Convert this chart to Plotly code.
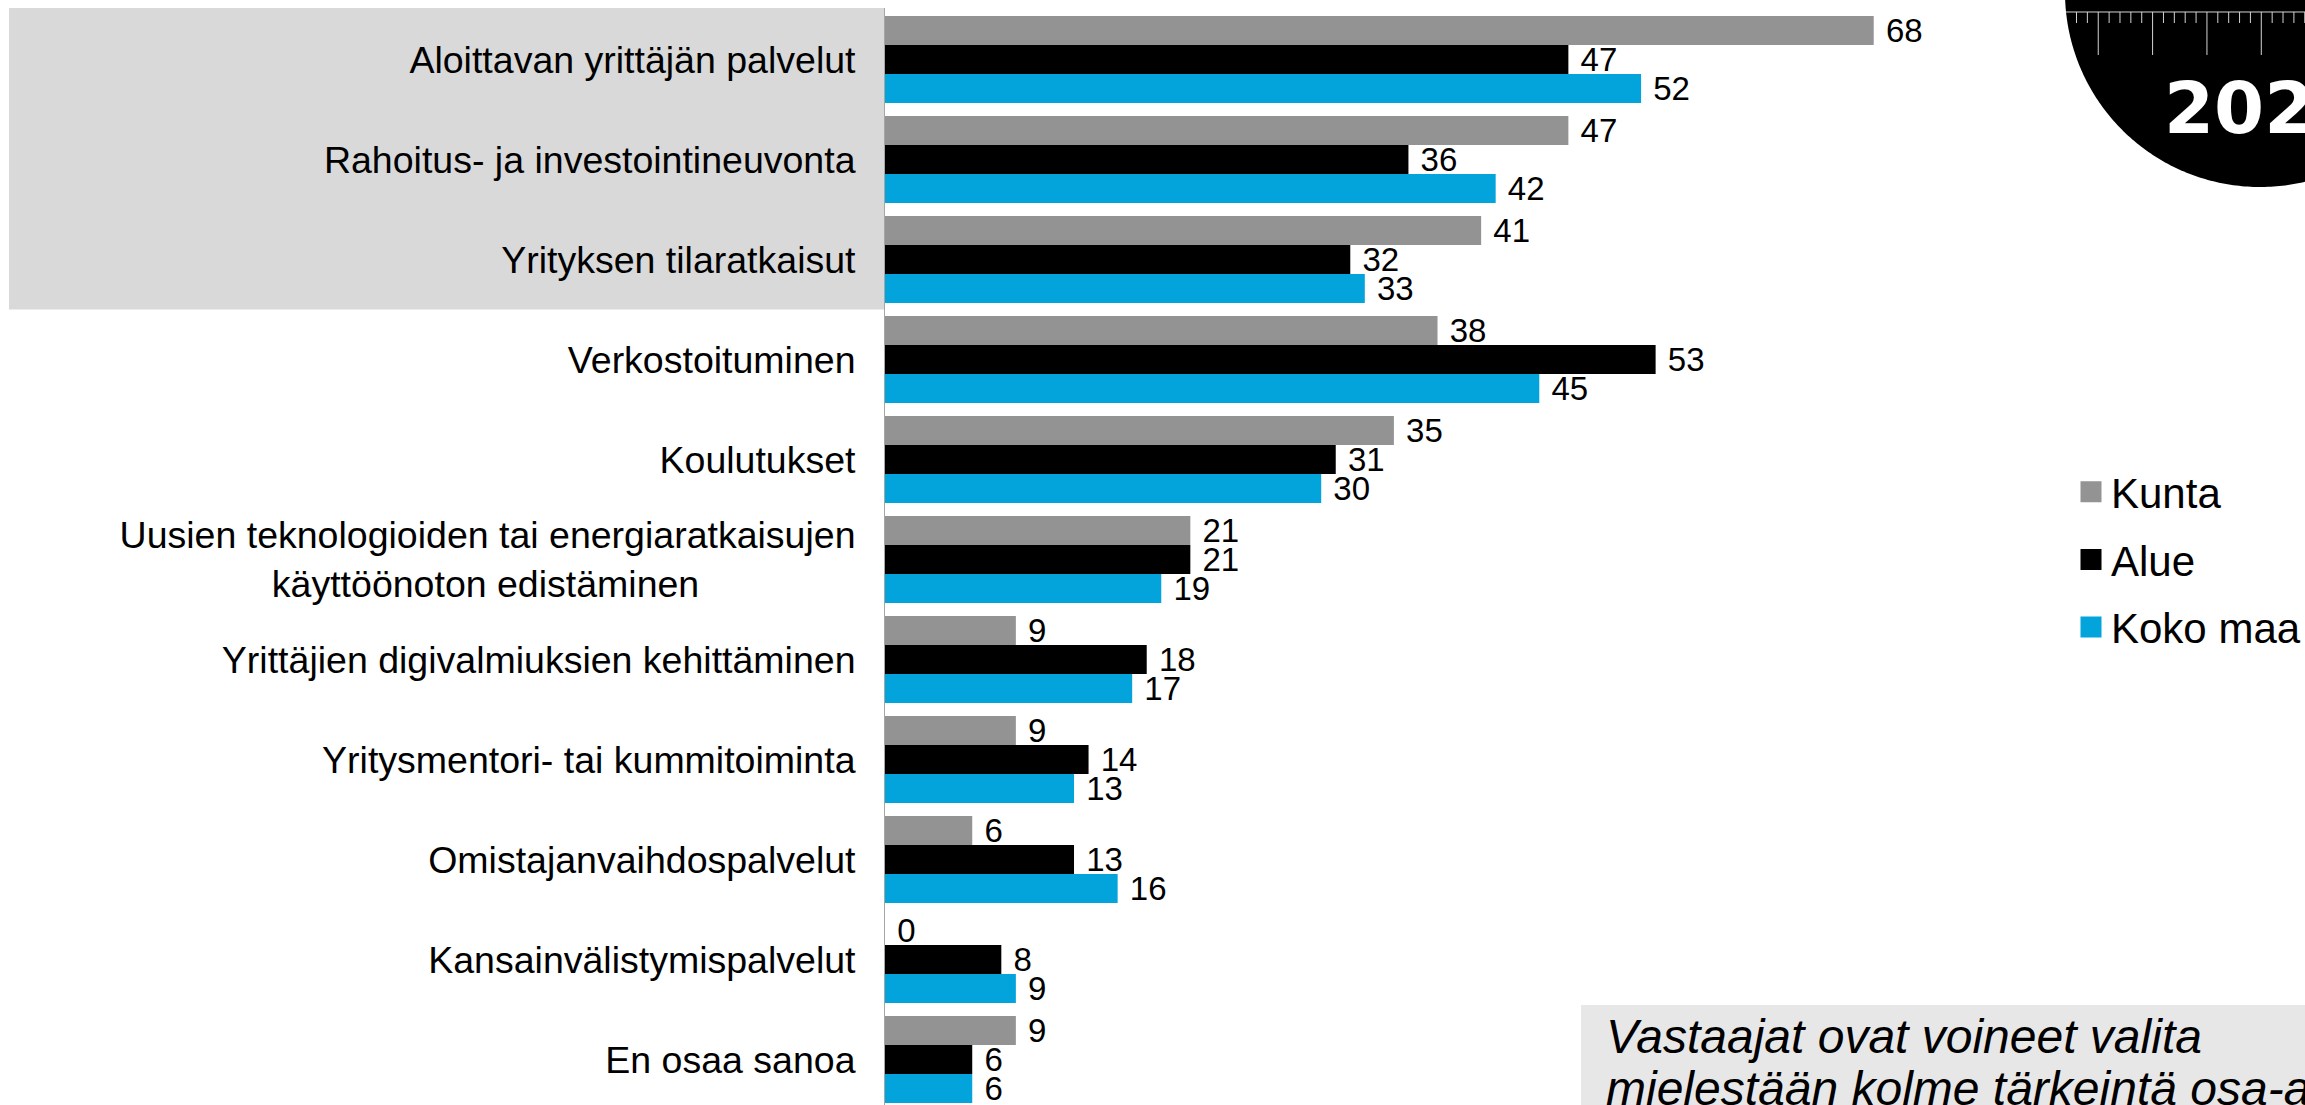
import numpy as np
import plotly.graph_objects as go

# ---------------- data ----------------
categories = [
    "Aloittavan yrittäjän palvelut",
    "Rahoitus- ja investointineuvonta",
    "Yrityksen tilaratkaisut",
    "Verkostoituminen",
    "Koulutukset",
    "Uusien teknologioiden tai energiaratkaisujen käyttöönoton edistäminen",
    "Yrittäjien digivalmiuksien kehittäminen",
    "Yritysmentori- tai kummitoiminta",
    "Omistajanvaihdospalvelut",
    "Kansainvälistymispalvelut",
    "En osaa sanoa",
]
tick_labels = [
    "Aloittavan yrittäjän palvelut",
    "Rahoitus- ja investointineuvonta",
    "Yrityksen tilaratkaisut",
    "Verkostoituminen",
    "Koulutukset",
    "Uusien teknologioiden tai energiaratkaisujen<br>käyttöönoton edistäminen" + "\u00a0" * 15,
    "Yrittäjien digivalmiuksien kehittäminen",
    "Yritysmentori- tai kummitoiminta",
    "Omistajanvaihdospalvelut",
    "Kansainvälistymispalvelut",
    "En osaa sanoa",
]
kunta = [68, 47, 41, 38, 35, 21, 9, 9, 6, 0, 9]
alue = [47, 36, 32, 53, 31, 21, 18, 14, 13, 8, 6]
koko_maa = [52, 42, 33, 45, 30, 19, 17, 13, 16, 9, 6]
series_names = ["Kunta", "Alue", "Koko maa"]
series_values = [kunta, alue, koko_maa]
series_colors = ["#939393", "#000000", "#03a4dc"]
highlighted_count = 3
note_lines = ["Vastaajat ovat voineet valita", "mielestään kolme tärkeintä osa-a"]
badge_text = "202"

# ---------------- geometry ----------------
W, H = 2305, 1105
L, T = 885, 8
PW, PH = W - L, H - T
PX_PER_UNIT = 14.54
FONT = "Liberation Sans, Arial, sans-serif"


def px_x(p):
    return (p - L) / PW


def px_y(q):
    return (H - q) / PH


fig = go.Figure()

for name, vals, col in zip(series_names, series_values, series_colors):
    fig.add_trace(go.Bar(
        name=name, y=categories, x=vals, orientation="h",
        marker=dict(color=col, line=dict(width=0)),
        texttemplate="\u00a0%{x}", textposition="outside",
        textfont=dict(family=FONT, size=33, color="#000000"),
        constraintext="none", cliponaxis=False, showlegend=False,
        legendgroup=name,
    ))

# legend entries (larger square symbols)
for name, col in zip(series_names, series_colors):
    fig.add_trace(go.Scatter(
        name=name, x=[None], y=[None], mode="markers",
        marker=dict(symbol="square", size=16, color=col, line=dict(color=col, width=5)),
        legendgroup=name, showlegend=True, hoverinfo="skip",
    ))

shapes = []
# highlight box behind first categories
shapes.append(dict(type="rect", xref="paper", yref="y",
                   x0=px_x(9), x1=0, y0=-0.525, y1=highlighted_count - 0.5,
                   fillcolor="#d9d9d9", line=dict(width=0), layer="below"))
# note box bottom-right
shapes.append(dict(type="rect", xref="paper", yref="paper",
                   x0=px_x(1581), x1=1.0, y0=0, y1=px_y(1005),
                   fillcolor="#e7e7e7", line=dict(width=0), layer="below"))

# black badge circle (visible part)
cx, cy, r = 2260.0, -8.0, 195.0
th1 = np.pi - np.arcsin(-cy / r)
th2 = np.arccos((W - cx) / r)
ths = np.linspace(th1, th2, 120)
pts = [(cx + r * np.cos(t), cy + r * np.sin(t)) for t in ths]
pts.append((W, 0))
path = "M " + " L ".join(f"{px_x(x):.6f},{px_y(y):.6f}" for x, y in pts) + " Z"
shapes.append(dict(type="path", xref="paper", yref="paper", path=path,
                   fillcolor="#000000", line=dict(width=0), layer="above"))

# ruler on the badge
ruler_y = 12
xl = cx - np.sqrt(r * r - (ruler_y - cy) ** 2)
segs = [f"M {px_x(xl):.6f},{px_y(ruler_y):.6f} L {px_x(W):.6f},{px_y(ruler_y):.6f}"]
step = 10.87
k = 0
xt = 2076.5
while xt < W:
    major = (k % 5 == 2)
    yb = 55 if major else 23
    segs.append(f"M {px_x(xt):.6f},{px_y(ruler_y):.6f} L {px_x(xt):.6f},{px_y(yb):.6f}")
    xt += step
    k += 1
shapes.append(dict(type="path", xref="paper", yref="paper", path=" ".join(segs),
                   line=dict(color="#d4d4d4", width=1), layer="above"))

annotations = [
    dict(text=badge_text, xref="paper", yref="paper", x=1.0, y=px_y(108),
         xanchor="right", yanchor="middle", showarrow=False, xshift=11,
         font=dict(family="DejaVu Sans", size=72, color="#ffffff", weight="bold")),
    dict(text=note_lines[0], xref="paper", yref="paper", x=px_x(1604), y=px_y(1036),
         xanchor="left", yanchor="middle", showarrow=False,
         font=dict(family=FONT, size=48, color="#000000", style="italic")),
    dict(text=note_lines[1], xref="paper", yref="paper", x=px_x(1604), y=px_y(1088),
         xanchor="left", yanchor="middle", showarrow=False,
         font=dict(family=FONT, size=48, color="#000000", style="italic")),
]

n = len(categories)
fig.update_layout(
    width=W, height=H,
    margin=dict(l=L, r=0, t=T, b=0, pad=0, autoexpand=False),
    paper_bgcolor="#ffffff", plot_bgcolor="rgba(0,0,0,0)",
    barmode="group", bargap=0.13, bargroupgap=0,
    font=dict(family=FONT, color="#000000"),
    xaxis=dict(range=[0, PW / PX_PER_UNIT], showgrid=False, zeroline=False,
               showticklabels=False, showline=False, ticks=""),
    yaxis=dict(type="category", range=[n - 1 + 0.455, -0.515],
               tickmode="array", tickvals=categories, ticktext=tick_labels,
               showgrid=False, zeroline=False, showline=True,
               linecolor="#a6a6a6", linewidth=1, ticks="",
               tickfont=dict(family=FONT, size=37.5, color="#000000"),
               ticklabelstandoff=21, automargin=False),
    legend=dict(x=px_x(2071), y=px_y(458), xanchor="left", yanchor="top",
                font=dict(family=FONT, size=42, color="#000000"),
                bgcolor="rgba(0,0,0,0)", borderwidth=0,
                traceorder="grouped", tracegroupgap=10),
    shapes=shapes, annotations=annotations,
    showlegend=True,
)

fig.write_html("out.html", config={"displayModeBar": False},
               post_script="document.body.style.margin='0';")
